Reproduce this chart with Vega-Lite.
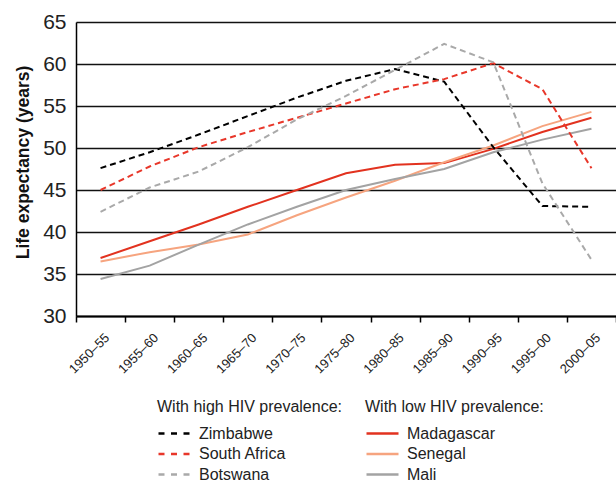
{
  "$schema": "https://vega.github.io/schema/vega-lite/v6.json",
  "width": 540,
  "height": 294,
  "autosize": {"type": "none"},
  "padding": {"left": 76, "top": 22, "right": 0, "bottom": 165},
  "background": "white",
  "config": {
    "view": {"stroke": null},
    "font": "Liberation Sans"
  },
  "data": {"values": [
    {"period":"1950–55","country":"Zimbabwe","group":"high","value":47.6},
    {"period":"1955–60","country":"Zimbabwe","group":"high","value":49.5},
    {"period":"1960–65","country":"Zimbabwe","group":"high","value":51.6},
    {"period":"1965–70","country":"Zimbabwe","group":"high","value":53.8},
    {"period":"1970–75","country":"Zimbabwe","group":"high","value":56.0},
    {"period":"1975–80","country":"Zimbabwe","group":"high","value":58.0},
    {"period":"1980–85","country":"Zimbabwe","group":"high","value":59.4},
    {"period":"1985–90","country":"Zimbabwe","group":"high","value":57.9},
    {"period":"1990–95","country":"Zimbabwe","group":"high","value":50.1},
    {"period":"1995–00","country":"Zimbabwe","group":"high","value":43.1},
    {"period":"2000–05","country":"Zimbabwe","group":"high","value":43.0},
    {"period":"1950–55","country":"South Africa","group":"high","value":45.0},
    {"period":"1955–60","country":"South Africa","group":"high","value":47.8},
    {"period":"1960–65","country":"South Africa","group":"high","value":50.1},
    {"period":"1965–70","country":"South Africa","group":"high","value":51.9},
    {"period":"1970–75","country":"South Africa","group":"high","value":53.6},
    {"period":"1975–80","country":"South Africa","group":"high","value":55.3},
    {"period":"1980–85","country":"South Africa","group":"high","value":57.0},
    {"period":"1985–90","country":"South Africa","group":"high","value":58.2},
    {"period":"1990–95","country":"South Africa","group":"high","value":60.1},
    {"period":"1995–00","country":"South Africa","group":"high","value":57.0},
    {"period":"2000–05","country":"South Africa","group":"high","value":47.6},
    {"period":"1950–55","country":"Botswana","group":"high","value":42.4},
    {"period":"1955–60","country":"Botswana","group":"high","value":45.3},
    {"period":"1960–65","country":"Botswana","group":"high","value":47.2},
    {"period":"1965–70","country":"Botswana","group":"high","value":50.1},
    {"period":"1970–75","country":"Botswana","group":"high","value":53.4},
    {"period":"1975–80","country":"Botswana","group":"high","value":56.2},
    {"period":"1980–85","country":"Botswana","group":"high","value":59.3},
    {"period":"1985–90","country":"Botswana","group":"high","value":62.4},
    {"period":"1990–95","country":"Botswana","group":"high","value":60.2},
    {"period":"1995–00","country":"Botswana","group":"high","value":45.8},
    {"period":"2000–05","country":"Botswana","group":"high","value":36.7},
    {"period":"1950–55","country":"Madagascar","group":"low","value":36.9},
    {"period":"1955–60","country":"Madagascar","group":"low","value":38.9},
    {"period":"1960–65","country":"Madagascar","group":"low","value":40.9},
    {"period":"1965–70","country":"Madagascar","group":"low","value":43.0},
    {"period":"1970–75","country":"Madagascar","group":"low","value":45.0},
    {"period":"1975–80","country":"Madagascar","group":"low","value":47.0},
    {"period":"1980–85","country":"Madagascar","group":"low","value":48.0},
    {"period":"1985–90","country":"Madagascar","group":"low","value":48.2},
    {"period":"1990–95","country":"Madagascar","group":"low","value":49.9},
    {"period":"1995–00","country":"Madagascar","group":"low","value":51.9},
    {"period":"2000–05","country":"Madagascar","group":"low","value":53.6},
    {"period":"1950–55","country":"Senegal","group":"low","value":36.5},
    {"period":"1955–60","country":"Senegal","group":"low","value":37.6},
    {"period":"1960–65","country":"Senegal","group":"low","value":38.5},
    {"period":"1965–70","country":"Senegal","group":"low","value":39.7},
    {"period":"1970–75","country":"Senegal","group":"low","value":42.0},
    {"period":"1975–80","country":"Senegal","group":"low","value":44.1},
    {"period":"1980–85","country":"Senegal","group":"low","value":46.1},
    {"period":"1985–90","country":"Senegal","group":"low","value":48.3},
    {"period":"1990–95","country":"Senegal","group":"low","value":50.3},
    {"period":"1995–00","country":"Senegal","group":"low","value":52.6},
    {"period":"2000–05","country":"Senegal","group":"low","value":54.3},
    {"period":"1950–55","country":"Mali","group":"low","value":34.4},
    {"period":"1955–60","country":"Mali","group":"low","value":36.0},
    {"period":"1960–65","country":"Mali","group":"low","value":38.5},
    {"period":"1965–70","country":"Mali","group":"low","value":40.9},
    {"period":"1970–75","country":"Mali","group":"low","value":43.0},
    {"period":"1975–80","country":"Mali","group":"low","value":45.0},
    {"period":"1980–85","country":"Mali","group":"low","value":46.3},
    {"period":"1985–90","country":"Mali","group":"low","value":47.5},
    {"period":"1990–95","country":"Mali","group":"low","value":49.5},
    {"period":"1995–00","country":"Mali","group":"low","value":51.0},
    {"period":"2000–05","country":"Mali","group":"low","value":52.3}
  ]},
  "encoding": {
    "x": {
      "field": "period", "type": "ordinal",
      "sort": ["1950–55","1955–60","1960–65","1965–70","1970–75","1975–80","1980–85","1985–90","1990–95","1995–00","2000–05"],
      "scale": {"paddingInner": 0, "paddingOuter": 0},
      "axis": {
        "title": null, "grid": false, "tickBand": "extent",
        "domainColor": "#000000", "domainWidth": 2,
        "tickColor": "#000000", "tickWidth": 1.5, "tickSize": 6,
        "labelAngle": -45, "labelFontSize": 13, "labelColor": "#222222", "labelPadding": 9, "labelOffset": 2
      }
    },
    "y": {
      "field": "value", "type": "quantitative",
      "scale": {"domain": [30, 65], "nice": false, "zero": false},
      "axis": {
        "values": [30,35,40,45,50,55,60,65],
        "grid": true, "gridColor": "#111111", "gridWidth": 1.6,
        "ticks": false, "domain": true, "domainColor": "#000000", "domainWidth": 1.5,
        "labelFontSize": 21, "labelColor": "#222222", "labelPadding": 10,
        "title": "Life expectancy (years)", "titleFontSize": 17.5, "titleFontWeight": "bold",
        "titleColor": "#111111", "titlePadding": 10, "titleY": 140
      }
    }
  },
  "layer": [
    {
      "transform": [{"filter": "datum.group === 'low'"}],
      "mark": {"type": "line", "strokeWidth": 2},
      "encoding": {
        "color": {
          "field": "country", "type": "nominal",
          "scale": {"domain": ["Madagascar","Senegal","Mali"], "range": ["#e2321f","#f6a47f","#a3a3a3"]},
          "legend": {
            "orient": "none", "legendX": 289, "legendY": 377, "direction": "vertical",
            "title": "With low HIV prevalence:", "titleFontSize": 16, "titleFontWeight": "normal", "titleColor": "#222222",
            "titleLimit": 400, "titlePadding": 9, "labelFontSize": 16, "labelColor": "#222222", "labelOffset": 23,
            "symbolType": "M-1,0H3", "symbolSize": 256, "symbolStrokeWidth": 2.5, "rowPadding": 2.5
          }
        }
      }
    },
    {
      "transform": [{"filter": "datum.group === 'high'"}],
      "mark": {"type": "line", "strokeWidth": 2, "strokeDash": [6, 4]},
      "encoding": {
        "color": {
          "field": "country", "type": "nominal",
          "scale": {"domain": ["Zimbabwe","South Africa","Botswana"], "range": ["#000000","#e8372a","#a9a9a9"]},
          "legend": {
            "orient": "none", "legendX": 81, "legendY": 377, "direction": "vertical",
            "title": "With high HIV prevalence:", "titleFontSize": 16, "titleFontWeight": "normal", "titleColor": "#222222",
            "titleLimit": 400, "titlePadding": 9, "labelFontSize": 16, "labelColor": "#222222", "labelOffset": 23,
            "symbolType": "M-1,0H3", "symbolSize": 256, "symbolStrokeWidth": 2.5, "symbolDash": [6, 6.5], "rowPadding": 2.5
          }
        }
      }
    }
  ],
  "resolve": {"scale": {"color": "independent"}, "legend": {"color": "independent"}}
}
